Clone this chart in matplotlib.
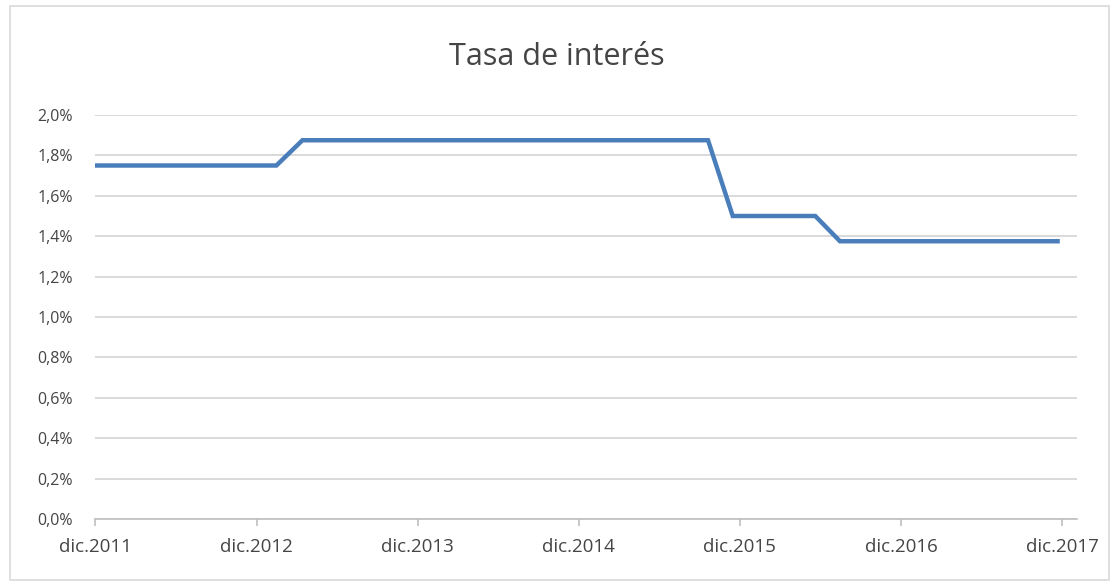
import numpy
import matplotlib
matplotlib.use('Agg')
from matplotlib import pyplot, dates as mdates
from matplotlib.patches import Rectangle
import datetime

# DATA
fechas = ['2011-12-01', '2013-01-15', '2013-03-15', '2015-09-20',
          '2015-11-15', '2016-05-20', '2016-07-15', '2017-11-20']
tasa = [1.75, 1.75, 1.875, 1.875, 1.5, 1.5, 1.375, 1.375]
ticks_x = ['2011-12-01', '2012-12-01', '2013-12-01', '2014-12-01',
           '2015-12-01', '2016-12-01', '2017-12-01']
ticks_y = [0.0, 0.2, 0.4, 0.6, 0.8, 1.0, 1.2, 1.4, 1.6, 1.8, 2.0]

MESES = {12: 'dic.'}
GRIS = '#454545'
FONT = 'Open Sans'

def to_date(s):
	return datetime.datetime.strptime(s, '%Y-%m-%d')

x = [to_date(f) for f in fechas]
xt = [to_date(f) for f in ticks_x]

W, H = 1113, 583
dpi = 100.0
fig = pyplot.figure(figsize=(W/dpi, H/dpi), dpi=dpi)

# outer border (chart area)
fig.patches.append(Rectangle((10/W, 3/H), 1099/W, 574/H, transform=fig.transFigure,
	fill=False, edgecolor='#d9d9d9', linewidth=1.2))

ax = fig.add_axes([95/W, 1-519/H, (1077-95)/W, (519-115)/H])

ax.plot(x, tasa, color='#4a7ebb', linewidth=3.2, solid_joinstyle='miter')

ax.set_ylim(0, 2.0)
ax.set_xlim(to_date('2011-12-01'), to_date('2018-01-03'))
ax.set_yticks(ticks_y)
ax.set_yticklabels([('%.1f%%' % v).replace('.', ',') for v in ticks_y],
	color=GRIS, fontsize=11.5, family=FONT)
ax.set_xticks(xt)
ax.set_xticklabels([MESES[d.month] + str(d.year) for d in xt],
	color=GRIS, fontsize=13.5, family=FONT)

ax.grid(axis='y', color='#d9d9d9', linewidth=1.4)
ax.set_axisbelow(True)
for s in ['top', 'right', 'left']:
	ax.spines[s].set_visible(False)
ax.spines['bottom'].set_color('#bfbfbf')
ax.spines['bottom'].set_linewidth(1.2)
ax.tick_params(axis='y', length=0, pad=16)
ax.tick_params(axis='x', length=5, color='#bfbfbf', width=1.2, pad=9)

fig.text(557/W, 1-57/H, 'Tasa de interés', ha='center', va='center',
	fontsize=22, color=GRIS, family=FONT)

fig.savefig('out.png', dpi=dpi)
